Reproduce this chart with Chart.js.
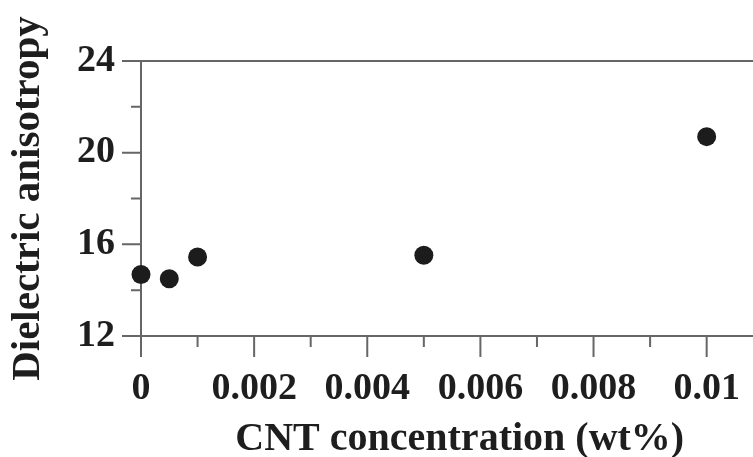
<!DOCTYPE html>
<html><head><meta charset="utf-8">
<script src="https://cdn.jsdelivr.net/npm/chart.js@4"></script>
<style>html,body{margin:0;padding:0;background:#fff;overflow:hidden}#wrap{width:753px;height:457px;overflow:hidden}</style>
</head><body><div id="wrap"><canvas id="c" width="788" height="457"></canvas></div>
<script>
const concentrations = [0, 0.0005, 0.001, 0.005, 0.01];
const anisotropy = [14.68, 14.5, 15.45, 15.52, 20.7];
const xMajorTicks = [0, 0.002, 0.004, 0.006, 0.008, 0.01];
const xTickLabels = ['0', '0.002', '0.004', '0.006', '0.008', '0.01'];
const xMinorTicks = [0.001, 0.003, 0.005, 0.007, 0.009];
const yMajorTicks = [12, 16, 20, 24];
const yTickLabels = ['12', '16', '20', '24'];
const yMinorTicks = [14, 18, 22];
const xTitle = 'CNT concentration (wt%)';
const yTitle = 'Dielectric anisotropy';

const FAMILY = '"Liberation Serif", "Times New Roman", serif';
const TEXT = '#1e1e1e';
const AXIS = '#666';

const axisPlugin = {
  id: 'axesDraw',
  beforeDatasetsDraw(chart) {
    const { ctx, chartArea: a, scales: { x, y } } = chart;
    ctx.save();
    ctx.strokeStyle = AXIS;
    ctx.lineWidth = 2;
    ctx.beginPath();
    ctx.moveTo(a.left, a.top); ctx.lineTo(a.left, a.bottom);
    ctx.moveTo(a.left, a.bottom); ctx.lineTo(a.right, a.bottom);
    ctx.moveTo(a.left, a.top); ctx.lineTo(a.right, a.top);
    xMajorTicks.forEach(v => { const p = x.getPixelForValue(v); ctx.moveTo(p, a.bottom); ctx.lineTo(p, a.bottom + 21); });
    xMinorTicks.forEach(v => { const p = x.getPixelForValue(v); ctx.moveTo(p, a.bottom); ctx.lineTo(p, a.bottom + 11); });
    yMajorTicks.forEach(v => { const p = y.getPixelForValue(v); ctx.moveTo(a.left, p); ctx.lineTo(a.left - 19, p); });
    yMinorTicks.forEach(v => { const p = y.getPixelForValue(v); ctx.moveTo(a.left, p); ctx.lineTo(a.left - 10, p); });
    ctx.stroke();
    ctx.restore();
  }
};

new Chart(document.getElementById('c'), {
  type: 'scatter',
  data: {
    datasets: [{
      data: concentrations.map((c, i) => ({ x: c, y: anisotropy[i] })),
      backgroundColor: '#1c1c1c',
      borderWidth: 0,
      pointRadius: 9.5,
      pointHoverRadius: 9.5,
      clip: false
    }]
  },
  options: {
    responsive: false,
    animation: false,
    devicePixelRatio: 1,
    events: [],
    layout: { padding: { top: 61, right: 0, left: 0, bottom: 0 } },
    plugins: { legend: { display: false }, tooltip: { enabled: false } },
    scales: {
      x: {
        type: 'linear', min: 0, max: 0.01127,
        afterBuildTicks: s => { s.ticks = xMajorTicks.map(v => ({ value: v })); },
        afterFit: s => { s.height = 121; s.paddingLeft = 0; s.paddingRight = 0; },
        grid: { display: false, drawTicks: false },
        border: { display: false },
        ticks: {
          padding: 30, autoSkip: false, minRotation: 0, maxRotation: 0, color: TEXT,
          font: { family: FAMILY, size: 38, weight: 'bold', lineHeight: 1.2 },
          callback: (v, i) => xTickLabels[i]
        },
        title: {
          display: true, text: xTitle, color: TEXT,
          font: { family: FAMILY, size: 40, weight: 'bold', lineHeight: 0.8 },
          padding: { top: 0, bottom: 1 }
        }
      },
      y: {
        type: 'linear', min: 12, max: 24,
        afterBuildTicks: s => { s.ticks = yMajorTicks.map(v => ({ value: v })); },
        afterFit: s => { s.width = 141; s.paddingTop = 0; s.paddingBottom = 0; },
        grid: { display: false, drawTicks: false },
        border: { display: false },
        ticks: {
          padding: 26, autoSkip: false, color: TEXT,
          font: { family: FAMILY, size: 38, weight: 'bold', lineHeight: 1.2 },
          callback: (v, i) => yTickLabels[i]
        },
        title: {
          display: true, text: yTitle, color: TEXT,
          font: { family: FAMILY, size: 41, weight: 'bold', lineHeight: 1.2 },
          padding: { top: 4, bottom: 0 }
        }
      }
    }
  },
  plugins: [axisPlugin]
});
</script>
</body></html>
